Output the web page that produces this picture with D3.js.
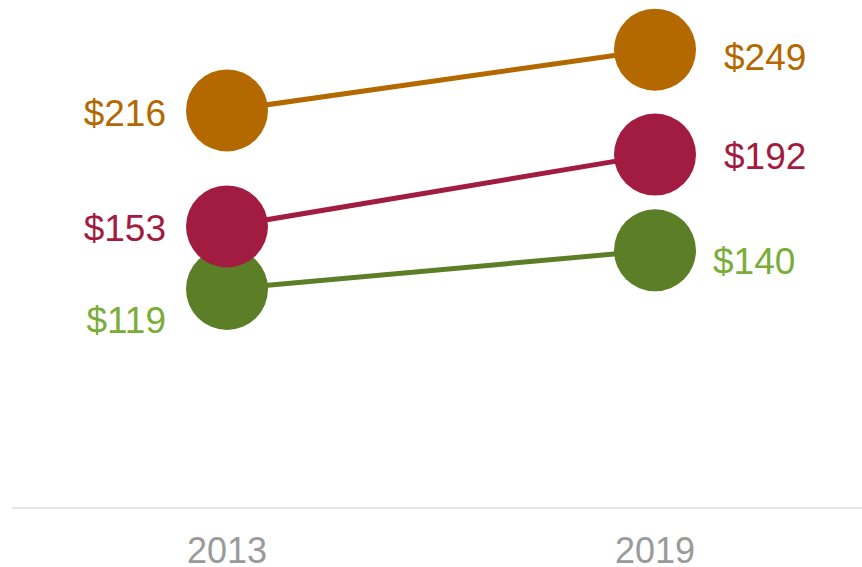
<!DOCTYPE html>
<html><head><meta charset="utf-8">
<script src="https://cdn.jsdelivr.net/npm/d3@7"></script>
<style>body{margin:0;background:#fff;}svg{display:block;font-family:"Liberation Sans",Arial,sans-serif;}</style>
</head><body>
<svg id="c" width="862" height="567"></svg>
<script>
const years = ["2013", "2019"];
const seriesNames = ["A", "B", "C"];
const values2013 = [216, 153, 119];
const values2019 = [249, 192, 140];
const dotColors = ["#b36800", "#a11c40", "#5b7e26"];
const labelColors = ["#b36800", "#a11c40", "#7aad3a"];
// label offsets (layout only)
const leftLabelDy = [3, 2, 31];
const rightLabelDx = [0, 0, -11];
const rightLabelDy = [7, 1, 11];

const svg = d3.select("#c");
const x = d3.scalePoint().domain(years).range([227, 655]);
const y = d3.scaleLinear().domain([0, 276]).range([508, 0]);

// axis
const ax = svg.append("g").attr("transform", "translate(0,508)");
ax.append("line").attr("x1", 12).attr("x2", 862).attr("y1", 0).attr("y2", 0)
  .attr("stroke", "#e6e6e6").attr("stroke-width", 2);
svg.append("g").selectAll("text").data(years).join("text")
  .attr("x", d => x(d)).attr("y", 563).attr("text-anchor", "middle")
  .attr("font-size", 36).attr("fill", "#9a9a9a").text(d => d);

const data = seriesNames.map((n, i) => ({n, i, a: values2013[i], b: values2019[i]}));

svg.append("g").selectAll("line").data(data).join("line")
  .attr("x1", x(years[0])).attr("x2", x(years[1]))
  .attr("y1", d => y(d.a)).attr("y2", d => y(d.b))
  .attr("stroke", d => dotColors[d.i]).attr("stroke-width", 5);

const dots = [];
data.forEach(d => { dots.push({i: d.i, yr: years[0], v: d.a}); dots.push({i: d.i, yr: years[1], v: d.b}); });
// draw order: so that 153 sits above 119
const order = [2, 0, 1];
dots.sort((p, q) => order.indexOf(p.i) - order.indexOf(q.i));
svg.append("g").selectAll("circle").data(dots).join("circle")
  .attr("cx", d => x(d.yr)).attr("cy", d => y(d.v)).attr("r", 41)
  .attr("fill", d => dotColors[d.i]);

svg.append("g").selectAll("text").data(data).join("text")
  .attr("x", x(years[0]) - 61).attr("y", d => y(d.a) + leftLabelDy[d.i])
  .attr("dy", "0.35em").attr("text-anchor", "end").attr("font-size", 37)
  .attr("fill", d => labelColors[d.i]).text(d => "$" + d.a);

svg.append("g").selectAll("text").data(data).join("text")
  .attr("x", d => x(years[1]) + 69 + rightLabelDx[d.i]).attr("y", d => y(d.b) + rightLabelDy[d.i])
  .attr("dy", "0.35em").attr("text-anchor", "start").attr("font-size", 37)
  .attr("fill", d => labelColors[d.i]).text(d => "$" + d.b);
</script>
</body></html>
